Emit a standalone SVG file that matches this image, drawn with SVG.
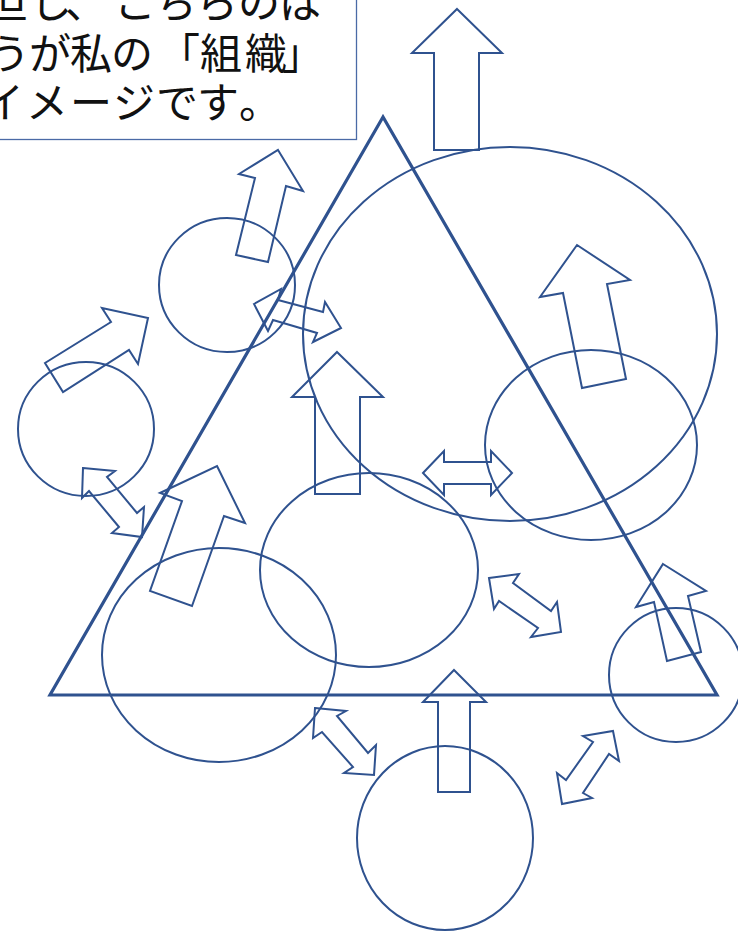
<svg xmlns="http://www.w3.org/2000/svg" width="738" height="931" viewBox="0 0 738 931">
<style>
.s{fill:none;stroke:#2f528f;stroke-width:2;stroke-linejoin:miter}
.tri{fill:none;stroke:#2f528f;stroke-width:3.2;stroke-linejoin:miter}
.box{fill:#fff;stroke:#4a6aa6;stroke-width:1.3}
.t{font-family:"Noto Sans CJK JP","Noto Sans CJK SC",sans-serif;font-size:42px;fill:#111}
</style>
<rect width="738" height="931" fill="#fff"/>
<g id="textbox">
<rect class="box" x="-3" y="-3" width="359.5" height="142.5"/>
<text class="t" y="18" x="-15 30 65 114 155 196 238 279">但し、こちらのは</text>
<text class="t" y="68.5" x="-12 29 70 111 158 200 245 282">うが私の「組織」</text>
<text class="t" y="118" x="-18 26 70 113 156 197 239">イメージです。</text>
</g>
<g id="triangle"><polygon class="tri" points="383,117 50,695 717,695"/></g>
<g id="circles">
<ellipse id="c-big" class="s" cx="510" cy="334" rx="207" ry="187"/>
<ellipse id="c-rightmid" class="s" cx="591" cy="445" rx="106" ry="95"/>
<ellipse id="c-center" class="s" cx="369" cy="570" rx="109" ry="97"/>
<ellipse id="c-lowerleft" class="s" cx="219" cy="655" rx="117" ry="107"/>
<ellipse id="c-bottom" class="s" cx="445" cy="838" rx="88" ry="92"/>
<ellipse id="c-rightsmall" class="s" cx="676" cy="675" rx="67" ry="67"/>
<ellipse id="c-left" class="s" cx="86" cy="429" rx="68" ry="67"/>
<ellipse id="c-upper" class="s" cx="227" cy="285" rx="68" ry="67"/>
</g>
<g id="arrows">
<polygon id="a-top" class="s" points="457,9 502,53 479,53 479,150 434,150 434,53 412,53"/>
<polygon id="a-upper" class="s" points="278,150 303,191 286,186 268,262 236,255 255,178 239,174"/>
<polygon id="a-upper-double" class="s" points="254,304 281,289 278,300 323,312 325,302 341,328 313,342 317,333 273,320 268,331"/>
<polygon id="a-left" class="s" points="148,318 138,364 129,350 63,392 45,363 111,322 102,308"/>
<polygon id="a-left-double" class="s" points="83,468 115,471 107,477 137,513 144,507 142,537 112,533 119,527 89,491 82,498"/>
<polygon id="a-lowerleft" class="s" points="217,466 245,523 224,516 192,606 150,591 182,501 160,493"/>
<polygon id="a-big" class="s" points="577,245 630,280 607,284 626,379 582,388 563,293 540,297"/>
<polygon id="a-center" class="s" points="337,352 383,397 360,397 360,494 315,494 315,397 292,397"/>
<polygon id="a-horiz-double" class="s" points="423,473 444,451 444,462 491,462 491,451 512,473 491,495 491,484 444,484 444,495"/>
<polygon id="a-bottomleft-double" class="s" points="315,708 346,711 337,716 368,753 376,745 374,775 344,773 353,767 322,732 313,738"/>
<polygon id="a-bottom" class="s" points="454,670 486,702 470,702 470,792 438,792 438,702 423,702"/>
<polygon id="a-mid-double" class="s" points="489,578 519,574 513,583 551,611 557,602 561,632 531,637 538,628 499,601 494,609"/>
<polygon id="a-bottomright-double" class="s" points="613,731 619,761 609,754 583,793 592,798 562,804 557,773 566,780 593,742 583,736"/>
<polygon id="a-right" class="s" points="663,564 706,591 688,596 701,652 667,661 654,602 636,607"/>
</g>
</svg>
